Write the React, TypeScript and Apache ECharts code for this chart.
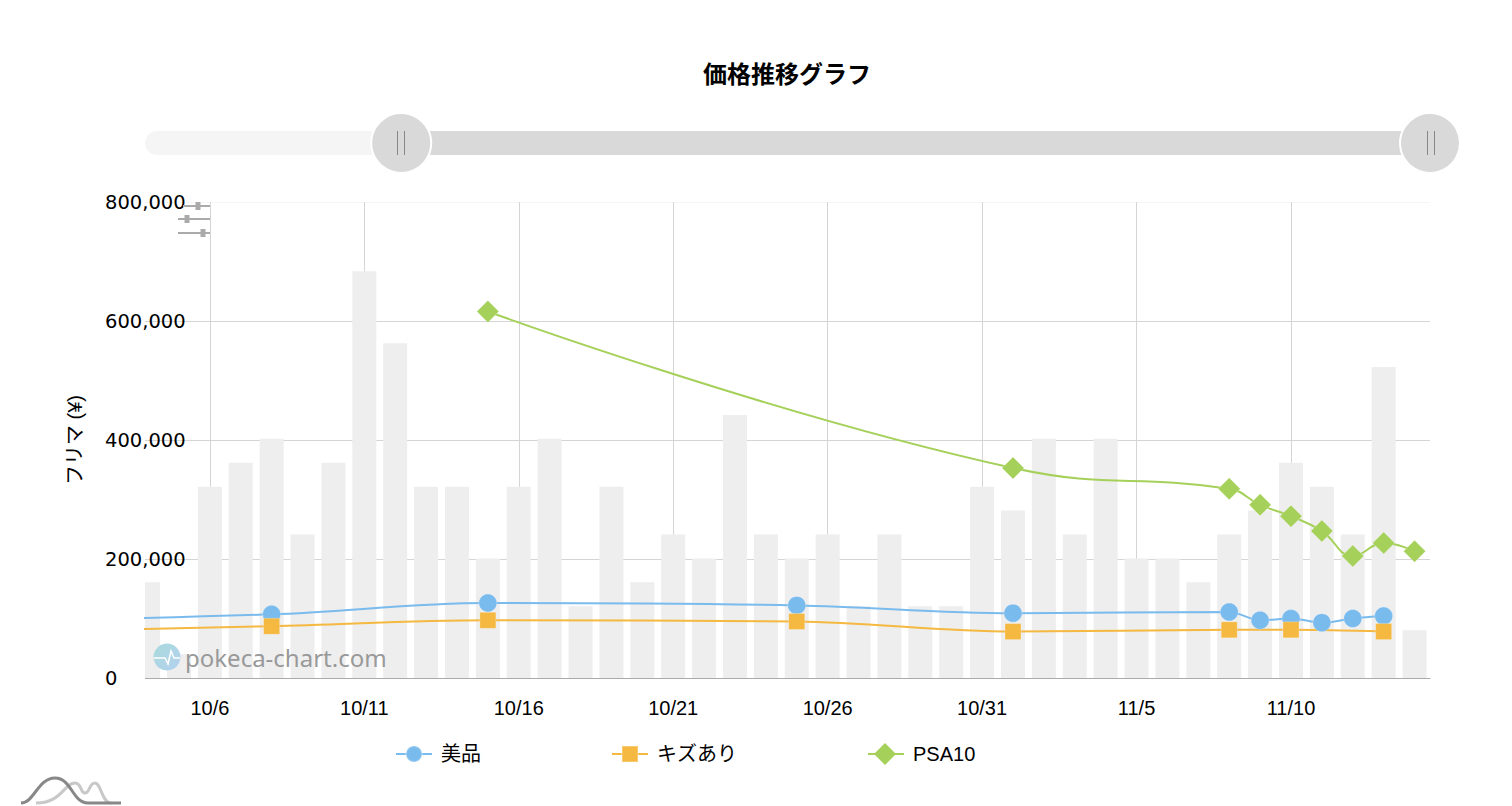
import React, { useEffect, useRef } from "react";
import * as echarts from "echarts";

const titleText = "価格推移グラフ";
const yAxisName = "フリマ (¥)";
const siteName = "pokeca-chart.com";
const tickLabels = ["10/6", "10/11", "10/16", "10/21", "10/26", "10/31", "11/5", "11/10"];
const countDates = ["10/4","10/5","10/6","10/7","10/8","10/9","10/10","10/11","10/12","10/13","10/14","10/15","10/16","10/17","10/18","10/19","10/20","10/21","10/22","10/23","10/24","10/25","10/26","10/27","10/28","10/29","10/30","10/31","11/1","11/2","11/3","11/4","11/5","11/6","11/7","11/8","11/9","11/10","11/11","11/12","11/13","11/14"];
const counts = [4,1,8,9,10,6,9,17,14,8,8,5,8,10,3,8,4,6,5,11,6,5,6,3,6,3,3,8,7,10,6,10,5,5,4,6,7,9,8,6,13,2];
const mintDates = ["9/26","10/8","10/15","10/25","11/1","11/8","11/9","11/10","11/11","11/12","11/13"];
const mintValues = [92000,107000,126000,122000,109000,111000,97000,100000,93000,100000,104000];
const scratchedDates = ["9/26","10/8","10/15","10/25","11/1","11/8","11/10","11/13"];
const scratchedValues = [74000,87000,97000,95000,78000,81000,81000,78000];
const psaDates = ["10/15","11/1","11/8","11/9","11/10","11/11","11/12","11/13","11/14"];
const psaValues = [616000,353000,318000,291000,272000,247000,205000,227000,213000];

const toDay = (s: string) => {
  const [m, d] = s.split("/").map(Number);
  return m === 9 ? d - 31 : m === 10 ? d - 1 : d + 30;
};
const zip = (dates: string[], values: number[]) => dates.map((d, i) => [toDay(d), values[i]]);
const tickDays = tickLabels.map(toDay);

echarts.graphic.registerShape(
  "logoDark",
  echarts.graphic.extendPath("M21 803 C34 803 38 778 55 778 C72 778 72 803 88 803 L121 803", {})
);
echarts.graphic.registerShape(
  "logoLight",
  echarts.graphic.extendPath("M36 803 C62 803 64 783 75 783 C82 783 80 793 85 793 C90 793 89 783 95 783 C101 783 102 803 111 803", {})
);

const latin = "'Liberation Sans','Noto Sans CJK JP',sans-serif";
const cjk = "'Noto Sans CJK JP',sans-serif";

export default function App() {
  const ref = useRef<HTMLDivElement>(null);
  useEffect(() => {
    document.body.style.margin = "0";
    const chart = echarts.init(ref.current!, undefined, { renderer: "svg" });
    const sym = (name: string, dates: string[], vals: number[], color: string, symbol: string, size: number, smooth = 0.35) => ({
      name,
      type: "line" as const,
      data: zip(dates, vals),
      smooth,
      symbol,
      symbolSize: size,
      showSymbol: true,
      showAllSymbol: true,
      z: 5,
      lineStyle: { color, width: 2 },
      itemStyle: { color, borderColor: "rgba(255,255,255,0.25)", borderWidth: 1 },
    });
    const handleLine = (x: number) => ({
      type: "line", z: 100, shape: { x1: x, y1: 131, x2: x, y2: 155 }, style: { stroke: "#888", lineWidth: 1 },
    });
    const filterLine = (y: number, x0: number, knob: number) => [
      { type: "line", z: 20, shape: { x1: x0, y1: y, x2: 210, y2: y }, style: { stroke: "#aaa", lineWidth: 2 } },
      { type: "rect", z: 21, shape: { x: knob - 2.5, y: y - 4, width: 5, height: 8 }, style: { fill: "#aaa" } },
    ];
    chart.setOption({
      animation: false,
      title: {
        text: titleText, left: 782, top: 55, textAlign: "center",
        textStyle: { fontFamily: cjk, fontSize: 24, fontWeight: "bold", color: "#000" },
      },
      legend: {
        left: 390, top: 739, itemWidth: 36, itemHeight: 20, itemGap: 130,
        data: ["美品", "キズあり", "PSA10"],
        textStyle: { fontFamily: latin, fontSize: 20, color: "#000", padding: [0, 0, 0, 4] },
      },
      grid: { left: 145, right: 82, top: 202, bottom: 128 },
      xAxis: {
        type: "value", min: -7.4, max: 44.5,
        axisLine: { show: true, onZero: false, lineStyle: { color: "#aaa" } },
        axisTick: { show: false, customValues: tickDays },
        splitLine: { show: true, showMinLine: true, showMaxLine: true, lineStyle: { color: "#d5d5d5" } },
        axisLabel: {
          margin: 20, fontFamily: latin, fontSize: 20, color: "#000",
          customValues: tickDays,
          formatter: (v: number) => tickLabels[tickDays.indexOf(v)] ?? "",
        },
      },
      yAxis: [
        {
          type: "value", min: 0, max: 800000, interval: 200000,
          name: yAxisName, nameLocation: "middle", nameGap: 60,
          nameTextStyle: { fontFamily: latin, fontSize: 20, color: "#000" },
          axisLine: { show: false }, axisTick: { show: false },
          splitLine: { lineStyle: { color: ["#d5d5d5", "#d5d5d5", "#d5d5d5", "#d5d5d5", "#f5f5f5"] } },
          axisLabel: {
            align: "left", margin: 40, fontFamily: "'DejaVu Sans',sans-serif", fontSize: 19.5, color: "#000",
            formatter: (v: number) => v.toLocaleString("en-US"),
          },
        },
        { type: "value", min: 0, max: 19.9, show: false },
      ],
      dataZoom: [
        {
          type: "slider", xAxisIndex: 0, filterMode: "none",
          startValue: 2.9, endValue: 44.5,
          left: 143, right: 83, top: 131, height: 24,
          backgroundColor: "transparent", borderColor: "transparent",
          fillerColor: "#d9d9d9", showDataShadow: false, showDetail: false, brushSelect: false,
          moveHandleSize: 0,
          handleIcon: "circle", handleSize: "250%",
          handleStyle: { color: "#d9d9d9", borderColor: "#fff", borderWidth: 2 },
        },
      ],
      series: [
        {
          name: "出品数", type: "bar", yAxisIndex: 1, barWidth: 24, z: 2, clip: true,
          data: zip(countDates, counts), itemStyle: { color: "#eeeeee" },
        },
        sym("美品", mintDates, mintValues, "#7abbee", "circle", 18),
        sym("キズあり", scratchedDates, scratchedValues, "#f5b840", "rect", 16),
        sym("PSA10", psaDates, psaValues, "#a5d059", "diamond", 22, 0.45),
      ],
      graphic: [
        { type: "rect", z: 1, shape: { x: 145, y: 131, width: 300, height: 24, r: [12, 0, 0, 12] }, style: { fill: "#f5f5f5" } },
        { type: "rect", z: 3, shape: { x: 130, y: 575, width: 15, height: 105 }, style: { fill: "#fff" } },
        handleLine(397.5), handleLine(404.5), handleLine(1427.5), handleLine(1434.5),
        ...filterLine(206, 183, 198), ...filterLine(219, 178, 187), ...filterLine(233, 178, 203),
        { type: "polygon", z: 50, shape: { points: [[885, 743], [896, 754], [885, 765], [874, 754]] }, style: { fill: "#a5d059" } },
        {
          type: "circle", z: 30, shape: { cx: 167, cy: 657, r: 13.5 },
          style: {
            fill: new echarts.graphic.LinearGradient(0, 0, 1, 1, [
              { offset: 0, color: "#a9dbdc" }, { offset: 1, color: "#b4d0ef" },
            ]),
          },
        },
        {
          type: "polyline", z: 31,
          shape: { points: [[154, 658], [165, 658], [168, 664], [171, 651], [174, 658], [180, 658]] },
          style: { stroke: "#fff", fill: "none", lineWidth: 1.5 },
        },
        {
          type: "text", z: 30, x: 185, y: 657,
          style: { text: siteName, fill: "#999", fontFamily: "'Noto Sans',sans-serif", fontSize: 24, verticalAlign: "middle", align: "left" },
        },
        { type: "logoLight", z: 40, style: { stroke: "#c8c8c8", fill: "none", lineWidth: 3 } },
        { type: "logoDark", z: 41, style: { stroke: "#888", fill: "none", lineWidth: 3 } },
      ],
    });
    return () => chart.dispose();
  }, []);
  return <div ref={ref} style={{ width: 1512, height: 806 }} />;
}
